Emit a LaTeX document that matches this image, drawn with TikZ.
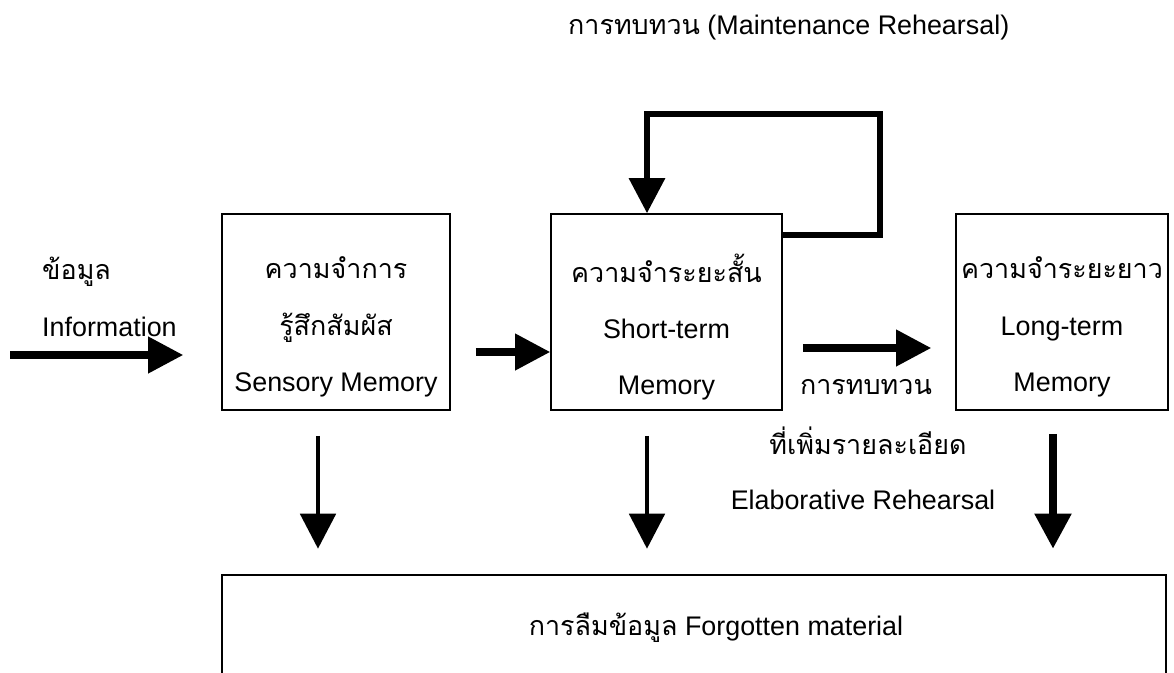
\documentclass[tikz,border=0pt]{standalone}
\usepackage{fontspec}
\setmainfont{Liberation Sans}
\newfontfamily\thaifont[Script=Thai]{Loma}
\newcommand{\thai}[1]{{\thaifont #1}}
\usepackage{tikz}
\usetikzlibrary{arrows.meta,positioning,calc}

\begin{document}
\begin{tikzpicture}[
    x=0.02cm, y=-0.02cm,
    font=\fontsize{15.3}{18}\selectfont,
    memorybox/.style={rectangle, draw, line width=0.9pt, minimum width=#1, minimum height=3.92cm, inner sep=0pt},
    boxtext/.style={align=center, font=\fontsize{15.3}{32}\selectfont},
    flowarrow/.style={line width=4pt, -{Triangle[width=20pt,length=20pt]}},
    droparrow/.style={line width=#1, -{Triangle[width=20pt,length=20pt]}}
]
    \useasboundingbox (0,0) rectangle (1174,673);

    % Memory stores
    \node[memorybox=4.56cm] (sens) at (336,312) {};
    \node[memorybox=4.62cm] (stm) at (666.5,312) {};
    \node[memorybox=4.24cm] (ltm) at (1062,312) {};
    \node[rectangle, draw, line width=0.9pt, minimum width=18.88cm, minimum height=2.02cm] (forgot) at (694,625.5) {};

    % Box texts
    \node[boxtext] (senstext) at (336,327) {\thai{ความจำการ}\\\thai{รู้สึกสัมผัส}\\Sensory Memory};
    \node[boxtext] (stmtext) at (666.5,327) {\thai{ความจำระยะสั้น}\\Short-term\\Memory};
    \node[boxtext] (ltmtext) at (1062,327) {\thai{ความจำระยะยาว}\\Long-term\\Memory};
    \node (forgottext) at (716,628) {\thai{การลืมข้อมูล} Forgotten material};

    % Other texts
    \node[anchor=west] (maint) at (562,28) {\thai{การทบทวน} (Maintenance Rehearsal)};
    \node[anchor=west] (infothai) at (36,272) {\thai{ข้อมูล}};
    \node[anchor=west] (infoeng) at (36,327) {Information};
    \node (elabthai) at (866,387) {\thai{การทบทวน}};
    \node (elabthai2) at (868,441) {\thai{ที่เพิ่มรายละเอียด}};
    \node (elabeng) at (863,500) {Elaborative Rehearsal};

    % Arrows
    \coordinate (info) at (10,355);
    \draw[flowarrow, shorten >=0.76cm] (info) -- (info -| sens.west);
    \draw[flowarrow] ($(sens.east)+(25,40)$) -- ($(stm.west)+(0,40)$);
    \draw[flowarrow] ($(stm.east)+(20,36)$) -- ($(ltm.west)+(-24,36)$);
    \draw[flowarrow, line width=3.4pt, line join=miter]
        ($(stm.north east)+(0,22)$) -- ++(97,0) |- ($(stm.north)+(-19.5,-99)$) -- ($(stm.north)+(-19.5,0)$);

    % Forgetting
    \draw[droparrow=2.8pt] ($(sens.south)+(-18,25)$) -- ++(0,113);
    \draw[droparrow=2.8pt] ($(stm.south)+(-19.5,25)$) -- ++(0,113);
    \draw[droparrow=4.5pt] ($(ltm.south)+(-9,23)$) -- ++(0,115);
\end{tikzpicture}
\end{document}
